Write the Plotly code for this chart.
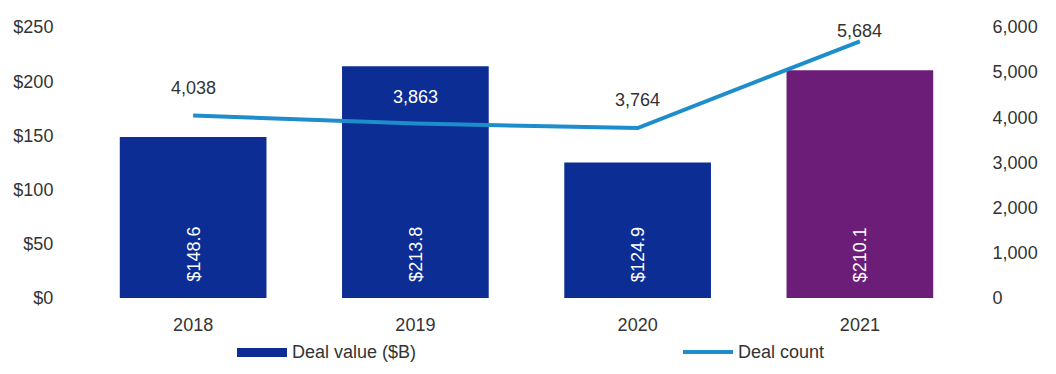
import plotly.graph_objects as go

# Chart data
years = ["2018", "2019", "2020", "2021"]
deal_value = [148.6, 213.8, 124.9, 210.1]      # $B
deal_count = [4038, 3863, 3764, 5684]
bar_colors = ["#0B2D94", "#0B2D94", "#0B2D94", "#6C1D78"]
count_label_colors = ["#333333", "#FFFFFF", "#333333", "#333333"]
count_label_shift = [28, 27, 28, 10]

left_ticks = [0, 50, 100, 150, 200, 250]
left_tick_text = ["$0", "$50", "$100", "$150", "$200", "$250"]
right_ticks = [0, 1000, 2000, 3000, 4000, 5000, 6000]
right_tick_text = ["0", "1,000", "2,000", "3,000", "4,000", "5,000", "6,000"]

FONT = "Liberation Sans, Arial, sans-serif"
TEXT = "#333333"
LINE = "#1E8DCC"

W, H = 1056, 374
L, R, T, B = 82, 85, 27, 76
PW, PH = W - L - R, H - T - B


def px_x(x):
    return (x - L) / PW


def px_y(y):
    return (H - B - y) / PH


fig = go.Figure()

fig.add_trace(go.Bar(
    x=years, y=deal_value, name="Deal value ($B)",
    marker=dict(color=bar_colors, line=dict(width=0)),
    width=0.66, yaxis="y", showlegend=False,
))

fig.add_trace(go.Scatter(
    x=years, y=deal_count, name="Deal count", mode="lines",
    line=dict(color=LINE, width=4), yaxis="y2", showlegend=False,
))

annotations = []
# value labels written vertically near the base of each bar
# (category axis: annotation x is the category index)
for i, v in enumerate(deal_value):
    annotations.append(dict(
        x=i, y=0, xref="x", yref="y", text=f"${v:.1f}",
        textangle=-90, showarrow=False, yanchor="bottom", xanchor="center",
        yshift=14, font=dict(family=FONT, size=18, color="#FFFFFF"),
    ))
# deal count labels above the line
for i, (c, col, sh) in enumerate(zip(deal_count, count_label_colors, count_label_shift)):
    annotations.append(dict(
        x=i, y=c, xref="x", yref="y2", text=f"{c:,}",
        showarrow=False, yanchor="middle", xanchor="center", yshift=sh,
        font=dict(family=FONT, size=18, color=col),
    ))

# legend drawn beneath the plot
legend_y = px_y(352)
annotations += [
    dict(x=px_x(290), y=legend_y, xref="paper", yref="paper", text="Deal value ($B)",
         showarrow=False, xanchor="left", yanchor="middle",
         font=dict(family=FONT, size=18, color=TEXT)),
    dict(x=px_x(736), y=legend_y, xref="paper", yref="paper", text="Deal count",
         showarrow=False, xanchor="left", yanchor="middle",
         font=dict(family=FONT, size=18, color=TEXT)),
]
shapes = [
    dict(type="rect", xref="paper", yref="paper",
         x0=px_x(237), x1=px_x(287), y0=px_y(357), y1=px_y(348),
         fillcolor="#0B2D94", line=dict(width=0)),
    dict(type="line", xref="paper", yref="paper",
         x0=px_x(683), x1=px_x(733), y0=legend_y, y1=legend_y,
         line=dict(color=LINE, width=4)),
]

fig.update_layout(
    width=W, height=H,
    margin=dict(l=L, r=R, t=T, b=B),
    paper_bgcolor="white", plot_bgcolor="white",
    font=dict(family=FONT, size=18, color=TEXT),
    xaxis=dict(type="category", categoryorder="array", categoryarray=years,
               range=[-0.5, 3.5], showgrid=False, showline=False, zeroline=False,
               ticks="outside", ticklen=10, tickcolor="rgba(0,0,0,0)",
               tickfont=dict(family=FONT, size=18, color=TEXT)),
    yaxis=dict(range=[0, 250], tickvals=left_ticks, ticktext=left_tick_text,
               showgrid=False, zeroline=False, showline=False,
               ticks="outside", ticklen=24, tickcolor="rgba(0,0,0,0)",
               tickfont=dict(family=FONT, size=18, color=TEXT)),
    yaxis2=dict(range=[0, 6000], tickvals=right_ticks, ticktext=right_tick_text,
                overlaying="y", side="right", showgrid=False, zeroline=False,
                showline=False, ticks="outside", ticklen=17,
                tickcolor="rgba(0,0,0,0)",
                tickfont=dict(family=FONT, size=18, color=TEXT)),
    annotations=annotations, shapes=shapes,
    showlegend=False,
)

fig.write_html("out.html")
